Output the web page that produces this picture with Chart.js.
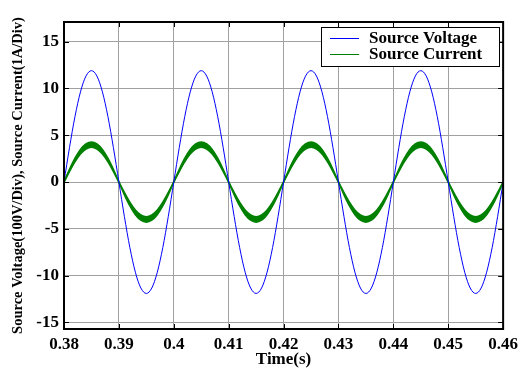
<!DOCTYPE html>
<html>
<head>
<meta charset="utf-8">
<script src="https://cdn.jsdelivr.net/npm/chart.js@4"></script>
<style>
  html, body { margin: 0; padding: 0; background: #fff; }
  canvas { display: block; }
</style>
</head>
<body>
<canvas id="chart" width="523" height="370"></canvas>
<script>
'use strict';

/* ───── DATA ──────────────────────────────────────────────────────────── */
const TIME = [
  0.380, 0.381, 0.382, 0.383, 0.384, 0.385, 0.386, 0.387, 0.388, 0.389,
  0.390, 0.391, 0.392, 0.393, 0.394, 0.395, 0.396, 0.397, 0.398, 0.399,
  0.400, 0.401, 0.402, 0.403, 0.404, 0.405, 0.406, 0.407, 0.408, 0.409,
  0.410, 0.411, 0.412, 0.413, 0.414, 0.415, 0.416, 0.417, 0.418, 0.419,
  0.420, 0.421, 0.422, 0.423, 0.424, 0.425, 0.426, 0.427, 0.428, 0.429,
  0.430, 0.431, 0.432, 0.433, 0.434, 0.435, 0.436, 0.437, 0.438, 0.439,
  0.440, 0.441, 0.442, 0.443, 0.444, 0.445, 0.446, 0.447, 0.448, 0.449,
  0.450, 0.451, 0.452, 0.453, 0.454, 0.455, 0.456, 0.457, 0.458, 0.459,
  0.460,
];

const VOLTAGE = [
  0, 3.68, 7.00, 9.63, 11.32, 11.90, 11.32, 9.63, 7.00, 3.68,
  0, -3.68, -7.00, -9.63, -11.32, -11.90, -11.32, -9.63, -7.00, -3.68,
  0, 3.68, 7.00, 9.63, 11.32, 11.90, 11.32, 9.63, 7.00, 3.68,
  0, -3.68, -7.00, -9.63, -11.32, -11.90, -11.32, -9.63, -7.00, -3.68,
  0, 3.68, 7.00, 9.63, 11.32, 11.90, 11.32, 9.63, 7.00, 3.68,
  0, -3.68, -7.00, -9.63, -11.32, -11.90, -11.32, -9.63, -7.00, -3.68,
  0, 3.68, 7.00, 9.63, 11.32, 11.90, 11.32, 9.63, 7.00, 3.68,
  0, -3.68, -7.00, -9.63, -11.32, -11.90, -11.32, -9.63, -7.00, -3.68,
  0,
];

// current is drawn as a ripple band: upper and lower envelope
const CURRENT_UPPER = [
  0.05, 1.37, 2.55, 3.49, 4.08, 4.29, 4.08, 3.49, 2.55, 1.37,
  0.05, -1.11, -2.15, -2.99, -3.52, -3.71, -3.52, -2.99, -2.15, -1.11,
  0.05, 1.37, 2.55, 3.49, 4.08, 4.29, 4.08, 3.49, 2.55, 1.37,
  0.05, -1.11, -2.15, -2.99, -3.52, -3.71, -3.52, -2.99, -2.15, -1.11,
  0.05, 1.37, 2.55, 3.49, 4.08, 4.29, 4.08, 3.49, 2.55, 1.37,
  0.05, -1.11, -2.15, -2.99, -3.52, -3.71, -3.52, -2.99, -2.15, -1.11,
  0.05, 1.37, 2.55, 3.49, 4.08, 4.29, 4.08, 3.49, 2.55, 1.37,
  0.05, -1.11, -2.15, -2.99, -3.52, -3.71, -3.52, -2.99, -2.15, -1.11,
  0.05,
];

const CURRENT_LOWER = [
  -0.05, 1.11, 2.15, 2.99, 3.52, 3.71, 3.52, 2.99, 2.15, 1.11,
  -0.05, -1.37, -2.55, -3.49, -4.08, -4.29, -4.08, -3.49, -2.55, -1.37,
  -0.05, 1.11, 2.15, 2.99, 3.52, 3.71, 3.52, 2.99, 2.15, 1.11,
  -0.05, -1.37, -2.55, -3.49, -4.08, -4.29, -4.08, -3.49, -2.55, -1.37,
  -0.05, 1.11, 2.15, 2.99, 3.52, 3.71, 3.52, 2.99, 2.15, 1.11,
  -0.05, -1.37, -2.55, -3.49, -4.08, -4.29, -4.08, -3.49, -2.55, -1.37,
  -0.05, 1.11, 2.15, 2.99, 3.52, 3.71, 3.52, 2.99, 2.15, 1.11,
  -0.05, -1.37, -2.55, -3.49, -4.08, -4.29, -4.08, -3.49, -2.55, -1.37,
  -0.05,
];

const LEGEND_LABELS = ['Source Voltage', 'Source Current'];
const X_TITLE = 'Time(s)';
const Y_TITLE = 'Source Voltage(100V/Div), Source Current(1A/Div)';

/* ───── STYLE ──────────────────────────────────────────────────────────── */
const FONT = 'Liberation Serif, Times New Roman, serif';
const BLUE = '#0000ff';
const GREEN = '#008000';
const GRID = '#a0a0a0';

const pts = arr => arr.map((v, i) => ({ x: TIME[i], y: v }));

/* ───── MATLAB-STYLE BOX, INWARD TICKS, LEGEND ─────────────────────────── */
const matlabFrame = {
  id: 'matlabFrame',
  afterDraw(chart) {
    const { ctx, chartArea: { left, right, top, bottom }, scales: { x, y } } = chart;
    ctx.save();
    ctx.strokeStyle = '#000';
    ctx.lineWidth = 1;
    ctx.beginPath();
    x.ticks.forEach(t => {
      const px = Math.round(x.getPixelForValue(t.value)) + 0.5;
      ctx.moveTo(px, bottom); ctx.lineTo(px, bottom - 5);
      ctx.moveTo(px, top); ctx.lineTo(px, top + 5);
    });
    y.ticks.forEach(t => {
      const py = Math.round(y.getPixelForValue(t.value)) + 0.5;
      ctx.moveTo(left, py); ctx.lineTo(left + 5, py);
      ctx.moveTo(right, py); ctx.lineTo(right - 5, py);
    });
    ctx.stroke();

    ctx.lineWidth = 2;
    ctx.strokeRect(left, top, right - left, bottom - top);

    // legend box
    const bx = 321, by = 27, bw = 178, bh = 39;
    ctx.fillStyle = '#fff';
    ctx.fillRect(bx, by, bw, bh);
    ctx.lineWidth = 1;
    ctx.strokeRect(bx + 0.5, by + 0.5, bw, bh);
    [[BLUE, 38], [GREEN, 54]].forEach(([c, ly], i) => {
      ctx.strokeStyle = c;
      ctx.beginPath(); ctx.moveTo(330, ly + 0.5); ctx.lineTo(359, ly + 0.5); ctx.stroke();
      ctx.fillStyle = '#000';
      ctx.font = 'bold 17px ' + FONT;
      ctx.textBaseline = 'middle';
      ctx.fillText(LEGEND_LABELS[i], 369, ly + 1);
    });
    ctx.restore();
  },
};

new Chart(document.getElementById('chart').getContext('2d'), {
  type: 'line',
  data: {
    datasets: [
      {
        label: LEGEND_LABELS[0], data: pts(VOLTAGE),
        borderColor: BLUE, borderWidth: 1, pointRadius: 0,
        cubicInterpolationMode: 'monotone', fill: false,
      },
      {
        label: LEGEND_LABELS[1], data: pts(CURRENT_UPPER),
        borderColor: GREEN, borderWidth: 1.5, pointRadius: 0,
        cubicInterpolationMode: 'monotone', fill: false,
      },
      {
        label: LEGEND_LABELS[1] + ' (lower)', data: pts(CURRENT_LOWER),
        borderColor: GREEN, borderWidth: 1.5, pointRadius: 0,
        backgroundColor: GREEN,
        cubicInterpolationMode: 'monotone', fill: '-1',
      },
    ],
  },
  options: {
    responsive: false, animation: false,
    layout: { padding: { top: 22, right: 18, left: 0, bottom: 0 } },
    plugins: { legend: { display: false }, tooltip: { enabled: false } },
    scales: {
      x: {
        type: 'linear', min: 0.38, max: 0.46,
        afterFit: ax => { ax.height = 41; },
        ticks: {
          stepSize: 0.01, includeBounds: false, padding: 5, maxRotation: 0,
          color: '#000', font: { family: FONT, size: 17, weight: 'bold' },
          callback: v => String(+v.toFixed(2)),
        },
        grid: { color: GRID, drawTicks: false },
        border: { display: false },
        title: {
          display: true, text: X_TITLE, color: '#000',
          font: { family: FONT, size: 17, weight: 'bold' },
          padding: { top: 0, bottom: 0 },
        },
      },
      y: {
        min: -15.7, max: 17.1,
        afterFit: ax => { ax.width = 64; },
        ticks: {
          stepSize: 5, includeBounds: false, padding: 5,
          color: '#000', font: { family: FONT, size: 17, weight: 'bold' },
          callback: v => String(v),
        },
        grid: { color: GRID, drawTicks: false },
        border: { display: false },
        title: {
          display: true, text: Y_TITLE, color: '#000',
          font: { family: FONT, size: 14.5, weight: 'bold' },
          padding: { top: 10, bottom: 0 },
        },
      },
    },
  },
  plugins: [matlabFrame],
});
</script>
</body>
</html>
